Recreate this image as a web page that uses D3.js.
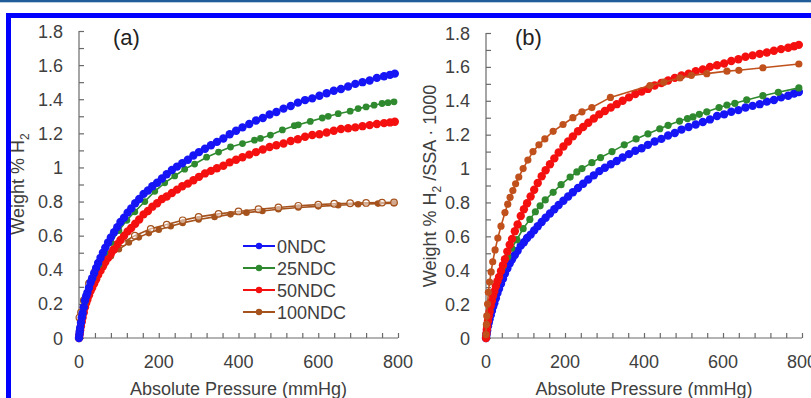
<!DOCTYPE html>
<html><head><meta charset="utf-8">
<script src="https://cdn.jsdelivr.net/npm/d3@7/dist/d3.min.js"></script>
<style>
html,body{margin:0;padding:0;background:#fff;}
svg{display:block;font-family:"Liberation Sans",Arial,sans-serif;}
</style></head>
<body><svg id="c" width="811" height="398"></svg>
<script>
// ---------- data ----------
const seriesNames = ["0NDC", "25NDC", "50NDC", "100NDC"];
const xTicks = [0, 200, 400, 600, 800];
const yTicks = [0, 0.2, 0.4, 0.6, 0.8, 1, 1.2, 1.4, 1.6, 1.8];
const yTickLabels = ["0", "0.2", "0.4", "0.6", "0.8", "1", "1.2", "1.4", "1.6", "1.8"];

// dense pressure grid (mmHg) of the dense 0NDC / 50NDC isotherms
const pDense = [0,1,2,3,5,7,9,12,15,18,21,25,29,33,38,43,48,54,60,66,73,80,88,96,104,113,122,131,141,151,162,173,184,196,208,220,233,246,259,273,287,301,316,331,346,362,378,394,410,427,444,461,478,495,513,531,549,567,585,603,621,639,657,675,693,711,729,747,765,780,792];

// panel (a): Weight % H2
const a0NDC  = [0,0.02,0.04,0.06,0.09,0.12,0.145,0.18,0.22,0.245,0.265,0.295,0.325,0.35,0.38,0.41,0.44,0.47,0.50,0.53,0.56,0.59,0.62,0.65,0.68,0.705,0.735,0.76,0.79,0.815,0.845,0.865,0.89,0.91,0.935,0.96,0.985,1.005,1.025,1.045,1.07,1.09,1.11,1.13,1.15,1.17,1.195,1.215,1.235,1.255,1.275,1.29,1.31,1.325,1.345,1.36,1.38,1.395,1.405,1.42,1.435,1.45,1.46,1.475,1.49,1.50,1.51,1.525,1.535,1.543,1.55];
const a50NDC = [0,0.015,0.03,0.045,0.07,0.095,0.12,0.15,0.18,0.205,0.225,0.25,0.275,0.295,0.32,0.345,0.37,0.395,0.42,0.445,0.47,0.495,0.52,0.55,0.575,0.60,0.625,0.645,0.67,0.695,0.725,0.745,0.77,0.79,0.815,0.83,0.85,0.87,0.89,0.905,0.925,0.945,0.965,0.98,0.995,1.01,1.03,1.045,1.06,1.075,1.09,1.105,1.12,1.13,1.14,1.155,1.165,1.18,1.19,1.195,1.205,1.215,1.225,1.23,1.235,1.242,1.248,1.255,1.26,1.264,1.268];
const a25P   = [0,3,8,15,25,35,50,65,80,100,120,140,165,190,215,240,265,290,320,350,380,410,440,455,480,510,540,550,580,610,625,650,680,700,720,740,760,775,790];
const a25NDC = [0,0.06,0.13,0.21,0.29,0.35,0.43,0.50,0.56,0.63,0.69,0.74,0.80,0.86,0.91,0.95,0.99,1.02,1.06,1.09,1.12,1.14,1.16,1.17,1.19,1.22,1.245,1.25,1.27,1.29,1.30,1.315,1.33,1.345,1.355,1.365,1.375,1.38,1.385];
const a100AdsP = [0,1,3,6,10,15,22,30,40,50,65,80,100,125,150,175,200,230,260,300,340,380,420,460,500,550,600,650,700,750,790];
const a100Ads  = [0,0.05,0.10,0.14,0.18,0.22,0.27,0.31,0.36,0.40,0.44,0.48,0.52,0.56,0.59,0.615,0.635,0.655,0.675,0.695,0.71,0.725,0.735,0.745,0.755,0.765,0.772,0.778,0.784,0.788,0.79];
const a100DesP = [790,760,720,680,640,600,550,500,450,400,350,300,260,220,180,140,110,85,60,40,25,12,5,1];
const a100Des  = [0.795,0.794,0.792,0.79,0.787,0.782,0.775,0.765,0.755,0.742,0.728,0.71,0.69,0.665,0.64,0.60,0.56,0.515,0.46,0.39,0.32,0.22,0.15,0.12];

// panel (b): Weight % H2 / SSA · 1000
const b0NDC  = [0,0.015,0.03,0.045,0.07,0.09,0.11,0.135,0.16,0.185,0.205,0.235,0.265,0.29,0.32,0.35,0.38,0.41,0.44,0.465,0.49,0.515,0.545,0.565,0.59,0.61,0.635,0.66,0.685,0.71,0.735,0.76,0.785,0.81,0.835,0.86,0.885,0.91,0.935,0.96,0.985,1.005,1.025,1.045,1.065,1.085,1.105,1.12,1.14,1.16,1.175,1.195,1.21,1.23,1.245,1.26,1.275,1.29,1.31,1.32,1.335,1.345,1.36,1.37,1.38,1.395,1.405,1.42,1.43,1.443,1.452];
const b50NDC = [0,0.025,0.05,0.07,0.10,0.13,0.155,0.19,0.22,0.25,0.275,0.305,0.335,0.36,0.395,0.43,0.465,0.51,0.55,0.585,0.63,0.67,0.72,0.76,0.795,0.835,0.875,0.915,0.955,0.99,1.025,1.06,1.095,1.13,1.16,1.19,1.22,1.245,1.27,1.295,1.32,1.34,1.36,1.38,1.40,1.42,1.44,1.455,1.47,1.49,1.505,1.52,1.535,1.55,1.56,1.575,1.585,1.60,1.61,1.62,1.635,1.645,1.66,1.668,1.677,1.685,1.695,1.705,1.713,1.722,1.73];
const b25P   = [0,2,5,10,18,28,43,55,65,78,94,111,125,137,150,170,190,213,230,243,268,290,319,350,380,410,440,461,490,510,524,540,559,590,610,630,660,701,740,792];
const b25NDC = [0,0.05,0.10,0.17,0.25,0.33,0.42,0.48,0.53,0.58,0.645,0.70,0.745,0.78,0.815,0.86,0.905,0.95,0.98,1.00,1.035,1.065,1.10,1.14,1.175,1.205,1.235,1.255,1.28,1.295,1.305,1.32,1.335,1.36,1.375,1.385,1.405,1.43,1.45,1.476];
const b100P  = [0,1,2,4,6,9,13,17,23,30,38,48,55,61,68,75,83,94,106,119,134,149,170,195,220,243,268,315,415,450,491,520,559,610,640,701,792];
const b100NDC= [0.02,0.08,0.13,0.20,0.27,0.33,0.39,0.45,0.52,0.59,0.66,0.74,0.79,0.83,0.87,0.91,0.95,1.00,1.05,1.10,1.14,1.175,1.22,1.26,1.30,1.335,1.36,1.42,1.49,1.51,1.535,1.55,1.56,1.575,1.58,1.595,1.617];

const colors = {"0NDC":"#1515f5","25NDC":"#2f8a2f","50NDC":"#f51010","100NDC":"#a5521c"};
const brownB = "#c0501c";

// ---------- drawing ----------
const svg = d3.select("#c");
svg.append("rect").attr("x",0).attr("y",0).attr("width",811).attr("height",2.3).attr("fill","#1f5c99");
svg.append("rect").attr("x",6).attr("y",13).attr("width",805).attr("height",5).attr("fill","#0000ff");
svg.append("rect").attr("x",6).attr("y",13).attr("width",5).attr("height",385).attr("fill","#0000ff");

const axisCol = "#6a6a6a", textCol = "#404040";

function zip(p, v){ return p.map((d,i)=>[d, v[i]]); }

function panel(cfg){
  const g = svg.append("g");
  const x = d3.scaleLinear().domain([0,800]).range([cfg.x0, cfg.x1]);
  const y = d3.scaleLinear().domain([0,1.8]).range([cfg.y0, cfg.y1]);
  const xa = g.append("g").attr("transform",`translate(0,${cfg.y0})`)
    .call(d3.axisBottom(x).tickValues(d3.range(0,801,40)).tickSize(-5).tickFormat(""));
  const ya = g.append("g").attr("transform",`translate(${cfg.x0},0)`)
    .call(d3.axisLeft(y).tickValues(d3.range(0,19).map(i=>i/10)).tickSize(-5).tickFormat(""));
  [xa,ya].forEach(a=>{a.selectAll("path,line").attr("stroke",axisCol).attr("stroke-width",1.2);});
  xa.select(".domain").attr("d",`M${cfg.x0},0H${cfg.x1}`);
  ya.select(".domain").attr("d",`M0,${cfg.y0}V${cfg.y1}`);
  g.selectAll(".xl").data(xTicks).enter().append("text")
    .attr("x",d=>x(d)).attr("y",cfg.y0+30).attr("text-anchor","middle")
    .attr("font-size",18).attr("fill",textCol).text(d=>d);
  g.selectAll(".yl").data(yTicks).enter().append("text")
    .attr("x",cfg.x0-16).attr("y",d=>y(d)+6.5).attr("text-anchor","end")
    .attr("font-size",18).attr("fill",textCol).text((d,i)=>yTickLabels[i]);
  g.append("text").attr("x",(cfg.x0+cfg.x1)/2).attr("y",cfg.y0+57)
    .attr("text-anchor","middle").attr("font-size",18).attr("fill",textCol).text("Absolute Pressure (mmHg)");
  const yt = g.append("text").attr("transform",`translate(${cfg.ytx},${cfg.yty}) rotate(-90)`)
    .attr("text-anchor","middle").attr("font-size",18).attr("fill",textCol);
  cfg.ytitle(yt);
  g.append("text").attr("x",cfg.labX).attr("y",45).attr("font-size",22).attr("fill","#222").text(cfg.label);
  const line = d3.line().x(d=>x(d[0])).y(d=>y(d[1]));
  cfg.series.forEach(s=>{
    const pts = zip(s.p, s.v);
    g.append("path").datum(pts).attr("d",line).attr("fill","none")
      .attr("stroke",s.color).attr("stroke-width",1.6);
    g.selectAll(null).data(pts).enter().append("circle")
      .attr("cx",d=>x(d[0])).attr("cy",d=>y(d[1])).attr("r",s.r||3.6)
      .attr("fill",s.open?"#fff":s.color).attr("fill-opacity",s.open?0.5:1)
      .attr("stroke",s.color).attr("stroke-width",s.open?1.2:0);
  });
  return {x,y,g};
}

panel({x0:79,x1:398,y0:338,y1:31,labX:113,label:"(a)",ytx:24,yty:184,
  ytitle:t=>{t.append("tspan").text("Weight % H");t.append("tspan").attr("font-size",12).attr("dy",5).text("2");},
  series:[
    {p:a100AdsP,v:a100Ads,color:colors["100NDC"],r:3.3},
    {p:a100DesP,v:a100Des,color:colors["100NDC"],r:3.3,open:true},
    {p:pDense,v:a50NDC,color:colors["50NDC"],r:4.2},
    {p:a25P,v:a25NDC,color:colors["25NDC"],r:3.4},
    {p:pDense,v:a0NDC,color:colors["0NDC"],r:4.2}
  ]});

panel({x0:486,x1:802,y0:338,y1:33,labX:515,label:"(b)",ytx:436,yty:186,
  ytitle:t=>{t.append("tspan").text("Weight % H");t.append("tspan").attr("font-size",12).attr("dy",5).text("2");
    t.append("tspan").attr("dy",-5).text(" /SSA · 1000");},
  series:[
    {p:pDense,v:b0NDC,color:colors["0NDC"],r:4.2},
    {p:b25P,v:b25NDC,color:colors["25NDC"],r:3.6},
    {p:pDense,v:b50NDC,color:colors["50NDC"],r:4.2},
    {p:b100P,v:b100NDC,color:brownB,r:3.6}
  ]});

const leg = svg.append("g");
seriesNames.forEach((n,i)=>{
  const yy = 246 + i*22;
  leg.append("line").attr("x1",243).attr("x2",275).attr("y1",yy).attr("y2",yy)
    .attr("stroke",colors[n]).attr("stroke-width",2);
  leg.append("circle").attr("cx",259).attr("cy",yy).attr("r",3.2).attr("fill",colors[n]);
  leg.append("text").attr("x",277).attr("y",yy+6.5).attr("font-size",18).attr("fill",textCol).text(n);
});
</script></body></html>
